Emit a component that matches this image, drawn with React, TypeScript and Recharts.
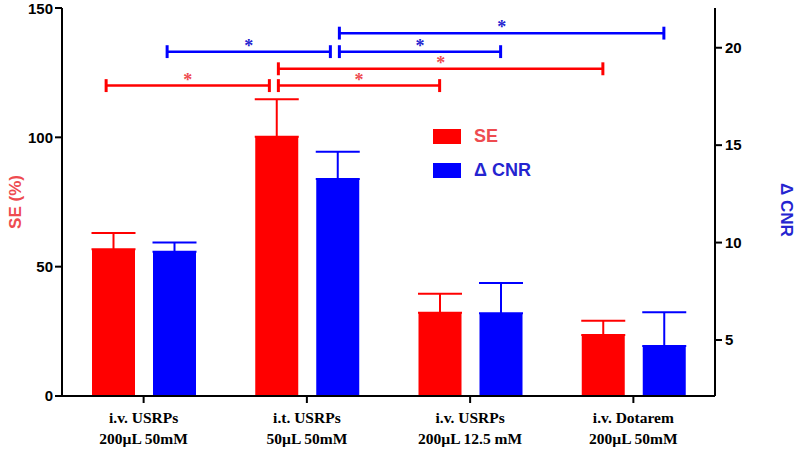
import React from 'react';
import {
  ComposedChart, Bar, XAxis, YAxis, ErrorBar, ReferenceLine, Legend,
} from 'recharts';

const CATEGORIES = [
  'i.v. USRPs\n200µL 50mM',
  'i.t. USRPs\n50µL 50mM',
  'i.v. USRPs\n200µL 12.5 mM',
  'i.v. Dotarem\n200µL 50mM',
];
const SE_VALUES = [56.7, 100.2, 32.2, 23.6];
const SE_ERRORS = [6.3, 14.5, 7.3, 5.5];
const CNR_VALUES = [9.53, 13.26, 6.37, 4.69];
const CNR_ERRORS = [0.48, 1.4, 1.55, 1.74];
const SE_TICKS = [0, 50, 100, 150];
const CNR_TICKS = [5, 10, 15, 20];
const PIVOT_GROUP = 1;
const SE_COMPARISONS = [
  { other: 0, level: 120 },
  { other: 2, level: 120 },
  { other: 3, level: 126.5 },
];
const CNR_COMPARISONS = [
  { other: 0, level: 19.8 },
  { other: 2, level: 19.8 },
  { other: 3, level: 20.75 },
];

const W = 799;
const H = 454;
const MARGIN = { top: 8, right: 0, bottom: 0, left: 0 };
const LEFT_AXIS_W = 62;
const RIGHT_AXIS_W = 84;
const X_AXIS_H = 58;
const BAR_SIZE = 43;
const BAR_GAP = 18;
const PLOT_W = W - LEFT_AXIS_W - RIGHT_AXIS_W;
const BAND = PLOT_W / CATEGORIES.length;

const RED = '#ff0000';
const BLUE = '#0000ff';
const RED_TEXT = '#ee4b50';
const BLUE_TEXT = '#2424d0';

const data = CATEGORIES.map((name, i) => ({
  name,
  pos: i + 0.5,
  se: SE_VALUES[i],
  seErr: [0, SE_ERRORS[i]],
  cnr: CNR_VALUES[i],
  cnrErr: [0, CNR_ERRORS[i]],
}));

const px = (p: number) => p / BAND;
const barCenter = (i: number, series: 'se' | 'cnr') =>
  i + 0.5 + (series === 'se' ? -1 : 1) * px((BAR_SIZE + BAR_GAP) / 2);

function brackets(list: { other: number; level: number }[], series: 'se' | 'cnr') {
  const color = series === 'se' ? RED : BLUE;
  const starColor = series === 'se' ? RED_TEXT : BLUE_TEXT;
  const yId = series;
  const capHalf = series === 'se' ? 2.5 : 0.33;
  const out: React.ReactNode[] = [];
  list.forEach((c, k) => {
    let x1: number;
    let x2: number;
    if (c.other < PIVOT_GROUP) {
      x1 = barCenter(c.other, series) - px(7);
      x2 = barCenter(PIVOT_GROUP, series) - px(7);
    } else {
      x1 = barCenter(PIVOT_GROUP, series) + px(2);
      x2 = barCenter(c.other, series);
    }
    out.push(
      <ReferenceLine
        key={`${series}-l-${k}`}
        xAxisId="num"
        yAxisId={yId}
        ifOverflow="visible"
        segment={[{ x: x1, y: c.level }, { x: x2, y: c.level }]}
        stroke={color}
        strokeWidth={2.5}
        label={{
          value: '*', position: 'top', offset: 0, fill: starColor,
          fontSize: 18, fontWeight: 'bold', fontFamily: 'Liberation Serif, serif',
        }}
      />,
    );
    [x1, x2].forEach((x, j) => {
      out.push(
        <ReferenceLine
          key={`${series}-c-${k}-${j}`}
          xAxisId="num"
          yAxisId={yId}
          ifOverflow="visible"
          segment={[{ x, y: c.level - capHalf }, { x, y: c.level + capHalf }]}
          stroke={color}
          strokeWidth={3}
        />,
      );
    });
  });
  return out;
}

const XTick = (props: any) => {
  const { x, y, payload } = props;
  const lines = String(payload.value).split('\n');
  return (
    <g transform={`translate(${x},${y})`}>
      <text textAnchor="middle" fill="#000" fontSize={15.5} fontWeight="bold"
        fontFamily="Liberation Serif, 'Times New Roman', serif">
        {lines.map((l, i) => (
          <tspan key={i} x={0} dy={i === 0 ? 18 : 21}>{l}</tspan>
        ))}
      </text>
    </g>
  );
};

const LEGEND_TEXT: Record<string, string> = { se: RED_TEXT, cnr: BLUE_TEXT };

const LegendContent = (props: any) => {
  const { payload } = props;
  return (
    <div style={{ fontFamily: 'Liberation Sans, Arial, sans-serif' }}>
      {(payload || []).map((p: any, i: number) => (
        <div key={i} style={{ display: 'flex', alignItems: 'center', height: 34 }}>
          <div style={{ width: 28, height: 15, background: p.color, marginRight: 13 }} />
          <span style={{ color: LEGEND_TEXT[p.dataKey], fontWeight: 'bold', fontSize: 18 }}>{p.value}</span>
        </div>
      ))}
    </div>
  );
};

const axisTitle = (text: string, color: string, side: 'left' | 'right') => (props: any) => {
  const vb = props.viewBox;
  const cx = side === 'left' ? vb.x + 15 : vb.x + 71;
  const cy = vb.y + vb.height / 2 + (side === 'left' ? 0 : 8);
  return (
    <text
      x={cx}
      y={cy}
      transform={`rotate(${side === 'left' ? -90 : 90} ${cx} ${cy})`}
      textAnchor="middle"
      dominantBaseline="central"
      fill={color}
      fontSize={17}
      fontWeight="bold"
      fontFamily="Liberation Sans, Arial, sans-serif"
    >
      {text}
    </text>
  );
};

const yTick = { fill: '#000', fontSize: 15, fontWeight: 'bold', fontFamily: 'Liberation Sans, Arial, sans-serif' };
const axisLine = { stroke: '#000', strokeWidth: 2 };

export default function App() {
  return (
    <div style={{ position: 'absolute', left: 0, top: 0, background: '#fff' }}>
      <ComposedChart width={W} height={H} data={data} margin={MARGIN} barGap={BAR_GAP}>
        <XAxis
          dataKey="name"
          height={X_AXIS_H}
          axisLine={axisLine}
          tickLine={axisLine}
          tickSize={7}
          tickMargin={2}
          interval={0}
          tick={<XTick />}
        />
        <XAxis
          xAxisId="num"
          dataKey="pos"
          type="number"
          orientation="top"
          domain={[0, CATEGORIES.length]}
          allowDataOverflow
          height={0}
          tick={false}
          tickLine={false}
          axisLine={axisLine}
        />
        <YAxis
          yAxisId="se"
          orientation="left"
          width={LEFT_AXIS_W}
          domain={[0, 150]}
          ticks={SE_TICKS}
          allowDataOverflow
          axisLine={axisLine}
          tickLine={axisLine}
          tickSize={7}
          tickMargin={2}
          tick={yTick}
          label={axisTitle('SE (%)', RED_TEXT, 'left')}
        />
        <YAxis
          yAxisId="cnr"
          orientation="right"
          width={RIGHT_AXIS_W}
          domain={[2.125, 22.04]}
          ticks={CNR_TICKS}
          allowDataOverflow
          axisLine={axisLine}
          tickLine={axisLine}
          tickSize={7}
          tickMargin={3}
          tick={yTick}
          label={axisTitle('Δ CNR', BLUE_TEXT, 'right')}
        />
        <Legend
          layout="vertical"
          align="center"
          verticalAlign="middle"
          content={<LegendContent />}
          wrapperStyle={{ position: 'absolute', left: 433, top: 119, width: 140, height: 70 }}
        />
        <Bar yAxisId="se" dataKey="se" name="SE" fill={RED} barSize={BAR_SIZE} isAnimationActive={false}>
          <ErrorBar dataKey="seErr" width={22} strokeWidth={2} stroke={RED} direction="y" />
        </Bar>
        <Bar yAxisId="cnr" dataKey="cnr" name="Δ CNR" fill={BLUE} barSize={BAR_SIZE} isAnimationActive={false}>
          <ErrorBar dataKey="cnrErr" width={22} strokeWidth={2} stroke={BLUE} direction="y" />
        </Bar>
        {brackets(SE_COMPARISONS, 'se')}
        {brackets(CNR_COMPARISONS, 'cnr')}
      </ComposedChart>
    </div>
  );
}
